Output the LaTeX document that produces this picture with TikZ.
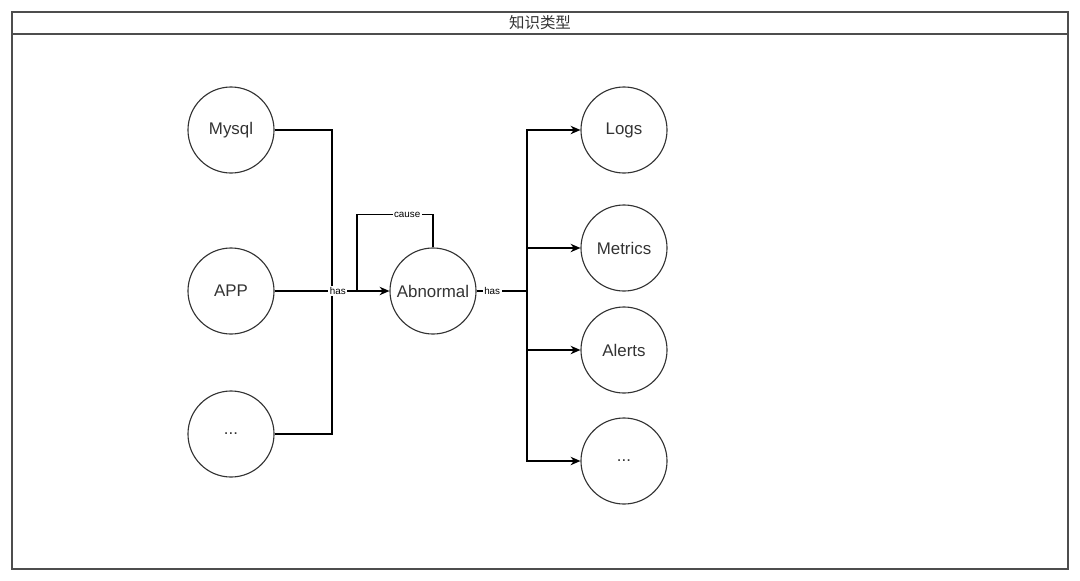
\documentclass[tikz,border=0pt]{standalone}
\usepackage{fontspec}
\setmainfont{Liberation Sans}
\newfontfamily\cjkfont{Noto Sans CJK SC}
\usepackage{tikz}
\usetikzlibrary{positioning,arrows.meta,calc}
\definecolor{framegray}{HTML}{4D4D4D}
\definecolor{linegray}{HTML}{333333}

\begin{document}
\begin{tikzpicture}[x=0.025cm, y=-0.025cm,
    kind/.style={circle, draw=linegray, line width=0.8pt, minimum size=2.15cm,
      inner sep=0pt, font=\fontsize{12}{14}\selectfont, text=linegray},
    link/.style={draw=black, line width=1pt},
    arr/.style={link, -{Stealth[length=7pt,width=6pt]}},
    lbl/.style={fill=white, inner sep=1pt, font=\fontsize{7}{8}\selectfont}]
  \useasboundingbox (0,0) rectangle (1080,580);
  % Frame and title bar
  \draw[framegray, line width=1.2pt] (12,12) rectangle (1068,569);
  \draw[framegray, line width=1.2pt] (12,34) -- (1068,34);
  \node[font=\cjkfont\fontsize{11}{13}\selectfont, text=linegray] (title) at (540,23) {知识类型};
  % Sources
  \node[kind] (mysql) at (231,130) {Mysql};
  \node[kind] (app) at (231,291) {APP};
  \node[kind] (srcmore) at (231,434) {...};
  % Centre
  \node[kind] (abnormal) at (433,291) {Abnormal};
  % Data kinds
  \node[kind] (logs) at (624,130) {Logs};
  \node[kind] (metrics) at (624,248) {Metrics};
  \node[kind] (alerts) at (624,350) {Alerts};
  \node[kind] (datamore) at (624,461) {...};
  % Bus joints
  \coordinate (inbus) at (332,291);
  \coordinate (outbus) at (527,291);
  \coordinate (loopend) at (357,291);
  % Left bus
  \draw[link] (mysql) -| (inbus);
  \draw[link] (srcmore) -| (inbus);
  \draw[arr] (app) -- node[lbl, pos=0.55] {has} (abnormal);
  % Cause loop
  \draw[link] (abnormal.north) -- ++(0,-33) -| node[lbl, pos=0.17] {cause} (loopend);
  % Right bus
  \draw[link] (abnormal) -- node[lbl, pos=0.31] {has} (outbus);
  \foreach \n in {logs,metrics,alerts,datamore}
    \draw[arr] (outbus) |- (\n);
\end{tikzpicture}
\end{document}
